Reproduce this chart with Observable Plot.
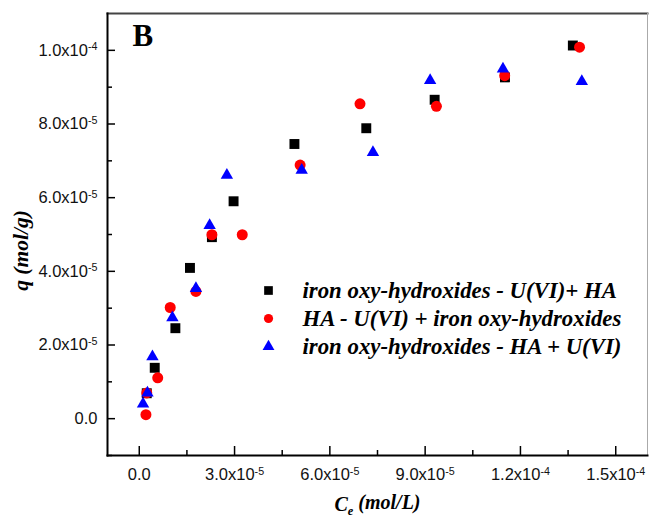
<!DOCTYPE html>
<html>
<head>
<meta charset="utf-8">
<script src="https://cdn.jsdelivr.net/npm/d3@7"></script>
<script src="https://cdn.jsdelivr.net/npm/@observablehq/plot@0.6"></script>
<style>
  html, body { margin: 0; padding: 0; background: #fff; }
  #chart { width: 649px; height: 519px; }
</style>
</head>
<body>
<div id="chart"></div>
<script>
// ---- data ----
const seriesNames = [
  "iron oxy-hydroxides - U(VI)+ HA",
  "HA - U(VI) + iron oxy-hydroxides",
  "iron oxy-hydroxides - HA + U(VI)"
];
const ceSquare = [2.36e-6, 4.87e-6, 1.137e-5, 1.596e-5, 2.287e-5, 2.969e-5, 4.885e-5, 7.147e-5, 9.299e-5, 1.1513e-4, 1.365e-4];
const qSquare  = [6.90e-6, 1.381e-5, 2.456e-5, 4.093e-5, 4.928e-5, 5.902e-5, 7.457e-5, 7.885e-5, 8.658e-5, 9.266e-5, 1.0131e-4];
const ceCircle = [2.10e-6, 2.36e-6, 5.81e-6, 9.74e-6, 1.784e-5, 2.287e-5, 3.242e-5, 5.064e-5, 6.949e-5, 9.355e-5, 1.1504e-4, 1.386e-4];
const qCircle  = [1.09e-6, 6.98e-6, 1.108e-5, 3.018e-5, 3.454e-5, 4.993e-5, 4.993e-5, 6.884e-5, 8.549e-5, 8.480e-5, 9.312e-5, 1.0085e-4];
const ceTriangle = [1.19e-6, 2.58e-6, 4.15e-6, 1.043e-5, 1.784e-5, 2.215e-5, 2.758e-5, 5.114e-5, 7.357e-5, 9.157e-5, 1.145e-4, 1.3932e-4];
const qTriangle  = [3.98e-6, 6.98e-6, 1.681e-5, 2.745e-5, 3.536e-5, 5.247e-5, 6.611e-5, 6.748e-5, 7.231e-5, 9.184e-5, 9.495e-5, 9.157e-5];

const xTicks = [0, 3e-5, 6e-5, 9e-5, 1.2e-4, 1.5e-4];
const xTickLabels = ["0.0", "3.0x10^-5", "6.0x10^-5", "9.0x10^-5", "1.2x10^-4", "1.5x10^-4"];
const xMinorTicks = [1.5e-5, 4.5e-5, 7.5e-5, 1.05e-4, 1.35e-4];
const yTicks = [0, 2e-5, 4e-5, 6e-5, 8e-5, 1e-4];
const yTickLabels = ["0.0", "2.0x10^-5", "4.0x10^-5", "6.0x10^-5", "8.0x10^-5", "1.0x10^-4"];
const yMinorTicks = [-1e-5, 1e-5, 3e-5, 5e-5, 7e-5, 9e-5];
const xDomain = [-1e-5, 1.6e-4];
const yDomain = [-1e-5, 1.1e-4];
const xTitle = "C_e (mol/L)";
const yTitle = "q (mol/g)";
const panelLabel = "B";

// ---- build ----
const toRows = (xs, ys) => xs.map((x, i) => ({x, y: ys[i]}));
const dataSquare = toRows(ceSquare, qSquare);
const dataCircle = toRows(ceCircle, qCircle);
const dataTriangle = toRows(ceTriangle, qTriangle);

const SERIF = "'Liberation Serif', 'Times New Roman', serif";
const SANS = "'Liberation Sans', Arial, sans-serif";

const symbols = ["square", "circle", "triangle"];
const colors = ["#000000", "#ff0000", "#0000ff"];
const legendR = [4.9, 4.6, 4.4];

const legendMarks = [];
seriesNames.forEach((name, i) => {
  legendMarks.push(Plot.dot([name], {
    frameAnchor: "top-left", dx: 161, dy: 277 + i * 28,
    symbol: symbols[i], r: legendR[i], fill: colors[i], stroke: "none"
  }));
  legendMarks.push(Plot.text([name], {
    frameAnchor: "top-left", dx: 195, dy: 277 + i * 28,
    text: d => d, textAnchor: "start", lineAnchor: "middle",
    fontFamily: SERIF, fontWeight: "bold", fontStyle: "italic", fontSize: 22.8, fill: "#000"
  }));
});

function subRender(index, scales, values, dims, context, next) {
  const g = next(index, scales, values, dims, context);
  d3.select(g).selectAll("text").each(function () {
    const t = d3.select(this);
    const s = t.text();
    const i = s.indexOf("_");
    if (i < 0) return;
    t.text(s.slice(0, i));
    t.append("tspan").attr("dy", "0.3em").attr("font-size", "0.62em").text(s.slice(i + 1, i + 2));
    t.append("tspan").attr("dy", "-0.3em").text(s.slice(i + 2));
  });
  return g;
}

const chart = Plot.plot({
  width: 649,
  height: 519,
  marginLeft: 107,
  marginRight: 2,
  marginTop: 13,
  marginBottom: 64,
  style: {background: "#fff", overflow: "visible"},
  x: {domain: xDomain},
  y: {domain: yDomain},
  marks: [
    Plot.frame({anchor: "top", stroke: "#444", strokeWidth: 2}),
    Plot.frame({anchor: "right", stroke: "#aaa", strokeWidth: 1}),
    Plot.frame({anchor: "left", stroke: "#000", strokeWidth: 2}),
    Plot.frame({anchor: "bottom", stroke: "#000", strokeWidth: 2}),
    Plot.axisX(xTicks, {tickSize: -9, tickPadding: 22, tickFormat: (d, i) => xTickLabels[i],
      fontFamily: SANS, fontSize: 16.5, fill: "#111", stroke: "#000", strokeWidth: 1.5, label: null}),
    Plot.axisX(xMinorTicks, {tickSize: -5, tickFormat: () => "", stroke: "#000", strokeWidth: 1.5, label: null}),
    Plot.axisY(yTicks, {tickSize: -8, tickPadding: 18, tickFormat: (d, i) => yTickLabels[i],
      fontFamily: SANS, fontSize: 16.5, fill: "#111", stroke: "#000", strokeWidth: 1.5, label: null}),
    Plot.axisY(yMinorTicks, {tickSize: -5, tickFormat: () => "", stroke: "#000", strokeWidth: 1.5, label: null}),
    Plot.dot(dataSquare, {x: "x", y: "y", symbol: "square", r: 5.6, fill: colors[0], stroke: "none"}),
    Plot.dot(dataCircle, {x: "x", y: "y", symbol: "circle", r: 5.5, fill: colors[1], stroke: "none"}),
    Plot.dot(dataTriangle, {x: "x", y: "y", symbol: "triangle", r: 4.6, fill: colors[2], stroke: "none"}),
    ...legendMarks,
    Plot.text([panelLabel], {frameAnchor: "top-left", dx: 25, dy: 23, text: d => d, textAnchor: "start",
      fontFamily: SERIF, fontWeight: "bold", fontSize: 31, lineAnchor: "middle", fill: "#000"}),
    Plot.text([xTitle], {frameAnchor: "bottom", dy: 49, text: d => d, render: subRender, textAnchor: "middle",
      fontFamily: SERIF, fontWeight: "bold", fontStyle: "italic", fontSize: 20, lineAnchor: "middle", fill: "#000"}),
    Plot.text([yTitle], {frameAnchor: "left", dx: -86, dy: 16, rotate: -90, text: d => d, textAnchor: "middle",
      fontFamily: SERIF, fontWeight: "bold", fontStyle: "italic", fontSize: 21.5, lineAnchor: "middle", fill: "#000"})
  ]
});

// superscripts on tick labels
d3.select(chart).selectAll('g[aria-label$="tick label"] text').each(function () {
  const t = d3.select(this);
  const s = t.text();
  const i = s.indexOf("^");
  if (i < 0) return;
  t.text(s.slice(0, i));
  t.append("tspan").attr("dy", "-0.5em").attr("font-size", "0.65em").text(s.slice(i + 1));
});

document.getElementById("chart").appendChild(chart);
</script>
</body>
</html>
